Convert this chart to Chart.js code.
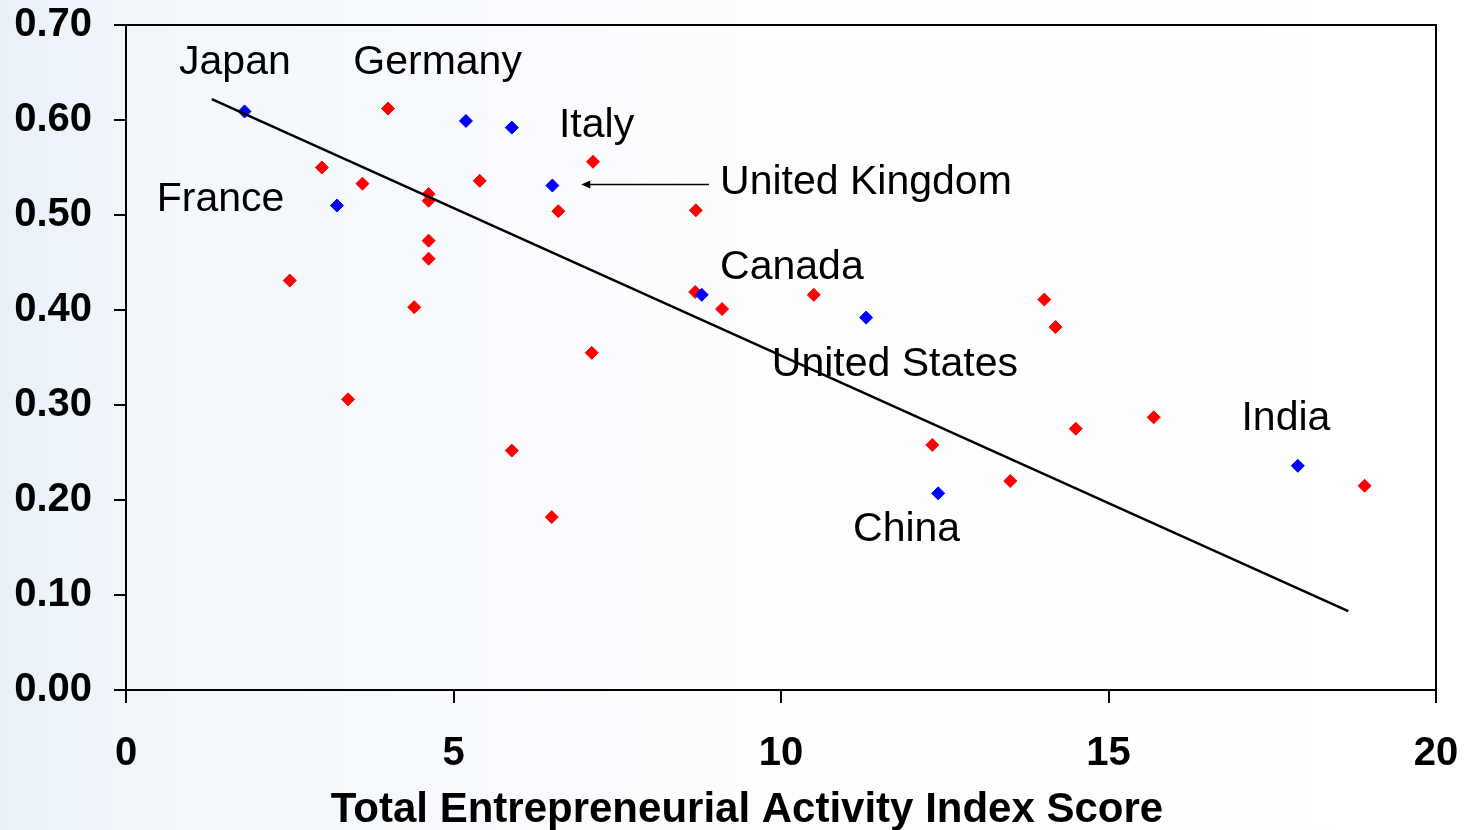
<!DOCTYPE html>
<html>
<head>
<meta charset="utf-8">
<title>Entrepreneurial Activity</title>
<script src="https://cdn.jsdelivr.net/npm/chart.js@4.4.1/dist/chart.umd.min.js"></script>
<style>
    html, body { margin: 0; padding: 0; background: #ffffff; }
    #wrap { width: 1475px; height: 830px; }
</style>
</head>
<body>
<div id="wrap"><canvas id="scatterChart" width="1475" height="830"></canvas></div>
<script>
// Data
const blueX = [1.81, 5.19, 5.89, 6.51, 3.22, 8.79, 11.30, 12.40, 17.89];
const blueY = [0.609, 0.599, 0.592, 0.531, 0.510, 0.416, 0.392, 0.207, 0.236];

const redX = [4.00, 7.13, 2.99, 3.61, 5.40, 4.62, 4.62, 6.60, 8.70, 4.62, 4.62, 2.50, 4.40, 8.69,
    9.10, 10.50, 14.02, 14.19, 7.11, 3.39, 5.89, 6.50, 12.31, 14.50, 15.69, 13.50, 18.91];
const redY = [0.612, 0.556, 0.550, 0.533, 0.536, 0.522, 0.515, 0.504, 0.505, 0.473, 0.454, 0.431, 0.403, 0.419,
    0.401, 0.416, 0.411, 0.382, 0.355, 0.306, 0.252, 0.182, 0.258, 0.275, 0.287, 0.220, 0.215];

const trendX = [1.31, 18.66];
const trendY = [0.622, 0.083];

const xTicks = [0, 5, 10, 15, 20];
const yTicks = [0.0, 0.1, 0.2, 0.3, 0.4, 0.5, 0.6, 0.7];

const countryNames = ['Japan', 'Germany', 'Italy', 'United Kingdom', 'France', 'Canada', 'United States', 'India', 'China'];
const xTitle = 'Total Entrepreneurial Activity Index Score';

function toPoints(xs, ys) {
    return xs.map(function(x, i) { return { x: x, y: ys[i] }; });
}

const FONT = '"Liberation Sans", Arial, Helvetica, sans-serif';

// label anchors (left edge, baseline) in data units
const labelAnchors = [
    [0.81, 0.648], [3.47, 0.648], [6.61, 0.582], [9.07, 0.522], [0.47, 0.504],
    [9.07, 0.433], [9.86, 0.3305], [17.03, 0.274], [11.10, 0.157]
];

// background wash
const backgroundPlugin = {
    id: 'backgroundWash',
    beforeDraw: function(chart) {
        const ctx = chart.ctx;
        const g = ctx.createLinearGradient(0, 0, chart.width, 0);
        g.addColorStop(0, '#e9f1f8');
        g.addColorStop(0.12, '#f3f7fb');
        g.addColorStop(0.45, '#fbfcfe');
        g.addColorStop(1, '#ffffff');
        ctx.save();
        ctx.fillStyle = g;
        ctx.fillRect(0, 0, chart.width, chart.height);
        ctx.restore();
    }
};

// box round the plot, country labels, UK arrow and the x title
const decorPlugin = {
    id: 'decor',
    afterDatasetsDraw: function(chart) {
        const ctx = chart.ctx;
        const a = chart.chartArea;
        const xs = chart.scales.x;
        const ys = chart.scales.y;

        ctx.save();
        ctx.strokeStyle = '#000000';
        ctx.lineWidth = 2;
        ctx.beginPath();
        ctx.moveTo(a.left, a.top);
        ctx.lineTo(a.right, a.top);
        ctx.lineTo(a.right, a.bottom);
        ctx.stroke();

        ctx.fillStyle = '#000000';
        ctx.font = '41px ' + FONT;
        ctx.textAlign = 'left';
        ctx.textBaseline = 'alphabetic';
        countryNames.forEach(function(name, i) {
            ctx.fillText(name, xs.getPixelForValue(labelAnchors[i][0]), ys.getPixelForValue(labelAnchors[i][1]));
        });

        // arrow pointing at the United Kingdom
        const ay = ys.getPixelForValue(0.532);
        const ax1 = xs.getPixelForValue(8.90);
        const ax2 = xs.getPixelForValue(6.95);
        ctx.lineWidth = 1.5;
        ctx.beginPath();
        ctx.moveTo(ax1, ay);
        ctx.lineTo(ax2 + 6, ay);
        ctx.stroke();
        ctx.beginPath();
        ctx.moveTo(ax2, ay);
        ctx.lineTo(ax2 + 9, ay - 4);
        ctx.lineTo(ax2 + 9, ay + 4);
        ctx.closePath();
        ctx.fill();

        // axis title, sits a little left of the plot centre
        ctx.font = 'bold 42px ' + FONT;
        ctx.textAlign = 'center';
        ctx.fillText(xTitle, 747, 822);
        ctx.restore();
    }
};

const ctx = document.getElementById('scatterChart').getContext('2d');
const chart = new Chart(ctx, {
    type: 'scatter',
    data: {
        datasets: [{
            type: 'line',
            label: 'Trend',
            data: toPoints(trendX, trendY),
            borderColor: '#000000',
            borderWidth: 2.5,
            pointRadius: 0,
            fill: false,
            tension: 0
        }, {
            label: 'Highlighted',
            data: toPoints(blueX, blueY),
            pointStyle: 'rectRot',
            pointRadius: 6.5,
            pointBackgroundColor: '#0000ff',
            pointBorderColor: '#0000ff',
            pointBorderWidth: 1
        }, {
            label: 'Other countries',
            data: toPoints(redX, redY),
            pointStyle: 'rectRot',
            pointRadius: 6.5,
            pointBackgroundColor: '#ff0000',
            pointBorderColor: '#ff0000',
            pointBorderWidth: 1
        }]
    },
    options: {
        responsive: false,
        animation: false,
        devicePixelRatio: 1,
        layout: {
            padding: { top: 25, right: 39, left: 0, bottom: 0 }
        },
        plugins: {
            legend: { display: false },
            tooltip: { enabled: false }
        },
        scales: {
            x: {
                type: 'linear',
                min: xTicks[0],
                max: xTicks[xTicks.length - 1],
                afterBuildTicks: function(scale) {
                    scale.ticks = xTicks.map(function(v) { return { value: v }; });
                },
                afterFit: function(scale) {
                    scale.height = 140;
                    scale.paddingLeft = 0;
                    scale.paddingRight = 0;
                },
                ticks: {
                    color: '#000000',
                    font: { family: FONT, size: 40, weight: 'bold' },
                    padding: 27,
                    maxRotation: 0
                },
                grid: {
                    drawOnChartArea: false,
                    drawTicks: true,
                    tickLength: 13,
                    color: '#000000',
                    lineWidth: 2
                },
                border: { color: '#000000', width: 2 }
            },
            y: {
                type: 'linear',
                min: yTicks[0],
                max: yTicks[yTicks.length - 1],
                afterBuildTicks: function(scale) {
                    scale.ticks = yTicks.map(function(v) { return { value: v }; });
                },
                afterFit: function(scale) {
                    scale.width = 126;
                    scale.paddingTop = 0;
                    scale.paddingBottom = 0;
                },
                ticks: {
                    color: '#000000',
                    font: { family: FONT, size: 40, weight: 'bold' },
                    padding: 22,
                    callback: function(v) { return Number(v).toFixed(2); }
                },
                grid: {
                    drawOnChartArea: false,
                    drawTicks: true,
                    tickLength: 12,
                    color: '#000000',
                    lineWidth: 2
                },
                border: { color: '#000000', width: 2 }
            }
        }
    },
    plugins: [backgroundPlugin, decorPlugin]
});
</script>
</body>
</html>
